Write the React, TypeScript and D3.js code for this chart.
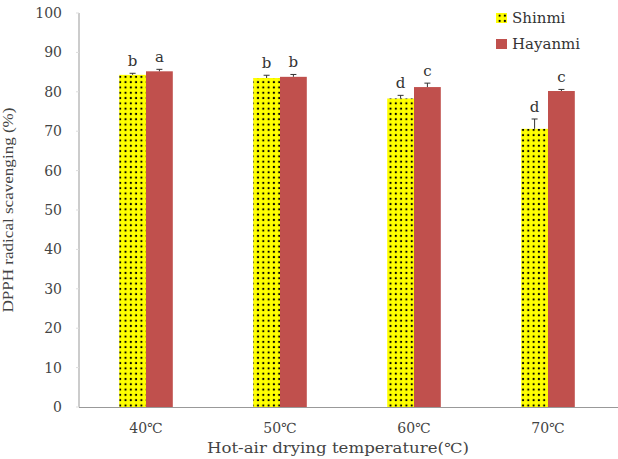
import * as d3 from "d3";

const categories = ["40℃", "50℃", "60℃", "70℃"];
const seriesNames = ["Shinmi", "Hayanmi"];
const shinmi = [84.3, 83.5, 78.3, 70.6];
const hayanmi = [85.2, 83.8, 81.2, 80.2];
const shinmiErr = [0.4, 0.7, 0.8, 2.5];
const hayanmiErr = [0.5, 0.6, 1.0, 0.4];
const shinmiLetters = ["b", "b", "d", "d"];
const hayanmiLetters = ["a", "b", "c", "c"];
const yTicks = [0, 10, 20, 30, 40, 50, 60, 70, 80, 90, 100];

const W = 618;
const H = 459;
const margin = { top: 13, right: 3, bottom: 52, left: 79 };
const font = "'DejaVu Serif', 'Liberation Serif', serif";
const titleFont = "'Liberation Serif', 'DejaVu Serif', serif";

export default function App() {
  const x = d3
    .scaleBand()
    .domain(categories)
    .range([margin.left, W - margin.right])
    .paddingInner(0.6)
    .paddingOuter(0.3);
  const inner = d3
    .scaleBand()
    .domain(seriesNames)
    .range([0, x.bandwidth()]);
  const y = d3.scaleLinear().domain([0, 100]).range([H - margin.bottom, margin.top]);

  const series = [
    { name: "Shinmi", values: shinmi, err: shinmiErr, letters: shinmiLetters, fill: "url(#dots)" },
    { name: "Hayanmi", values: hayanmi, err: hayanmiErr, letters: hayanmiLetters, fill: "#C0504D" },
  ];

  return (
    <svg width={W} height={H} style={{ position: "absolute", left: 0, top: 0, background: "#fff" }}>
      <defs>
        <pattern id="dots" width="5.3" height="5.3" patternUnits="userSpaceOnUse" x="1" y="0">
          <rect width="5.3" height="5.3" fill="#FFFF00" />
          <circle cx="2.6" cy="2.6" r="1.1" fill="#000" />
        </pattern>
      </defs>

      {/* axes */}
      <line x1={margin.left} x2={margin.left} y1={y(100)} y2={y(0)} stroke="#999" />
      <line x1={margin.left} x2={W} y1={y(0) + 0.5} y2={y(0) + 0.5} stroke="#999" />
      {yTicks.map((t) => (
        <g key={t}>
          <line x1={margin.left - 3} x2={margin.left} y1={y(t)} y2={y(t)} stroke="#ddd" />
          <text
            x={margin.left - 17}
            y={y(t)}
            dy="0.35em"
            textAnchor="end"
            fontFamily={font}
            fontSize={14}
            fill="#444"
          >
            {t}
          </text>
        </g>
      ))}

      {/* bars */}
      {series.map((s) =>
        categories.map((c, i) => {
          const bx = (x(c) ?? 0) + (inner(s.name) ?? 0);
          const bw = inner.bandwidth();
          const cx = bx + bw / 2;
          const top = y(s.values[i]);
          const eTop = y(s.values[i] + s.err[i]);
          return (
            <g key={s.name + c}>
              <rect x={bx} y={top} width={bw} height={y(0) - top} fill={s.fill} />
              <line x1={cx} x2={cx} y1={top} y2={eTop} stroke="#333" strokeWidth={1} />
              <line x1={cx - 3} x2={cx + 3} y1={eTop} y2={eTop} stroke="#333" strokeWidth={1} />
              <text
                x={cx}
                y={eTop - 7}
                textAnchor="middle"
                fontFamily={font}
                fontSize={15}
                fill="#333"
              >
                {s.letters[i]}
              </text>
            </g>
          );
        })
      )}

      {/* x labels */}
      {categories.map((c) => (
        <text
          key={c}
          x={(x(c) ?? 0) + x.bandwidth() / 2}
          y={y(0) + 26}
          textAnchor="middle"
          fontFamily={font}
          fontSize={14}
          fill="#444"
        >
          {c}
        </text>
      ))}
      <text
        x={338}
        y={y(0) + 46}
        textAnchor="middle"
        fontFamily={font}
        fontSize={14}
        fill="#444"
        textLength={262}
        lengthAdjust="spacingAndGlyphs"
      >
        Hot-air drying temperature(℃)
      </text>
      <text
        transform={`translate(13, 210) rotate(-90)`}
        textAnchor="middle"
        fontFamily={titleFont}
        fontSize={15}
        fill="#444"
        textLength={205}
        lengthAdjust="spacingAndGlyphs"
      >
        DPPH radical scavenging (%)
      </text>

      {/* legend */}
      {series.map((s, i) => (
        <g key={s.name} transform={`translate(496, ${13 + i * 26})`}>
          <rect width={11} height={10} fill={s.fill} />
          <text x={16} y={5} dy="0.35em" fontFamily={font} fontSize={15} fill="#333">
            {s.name}
          </text>
        </g>
      ))}
    </svg>
  );
}
